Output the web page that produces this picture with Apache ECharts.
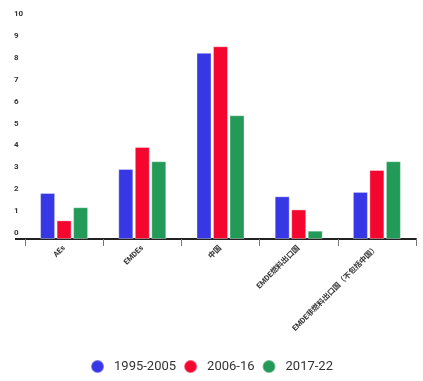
<!DOCTYPE html>
<html><head><meta charset="utf-8">
<script src="https://cdn.jsdelivr.net/npm/echarts@6/dist/echarts.min.js"></script>
<style>html,body{margin:0;padding:0;background:#fff}#c{width:423px;height:381px}</style>
</head><body><div id="c"></div>
<script>
const categories = ['AEs', 'EMDEs', '中国', 'EMDE燃料出口国', 'EMDE非燃料出口国（不包括中国）'];
const seriesNames = ['1995-2005', '2006-16', '2017-22'];
const s1995 = [2.1, 3.2, 8.5, 1.95, 2.15];
const s2006 = [0.85, 4.2, 8.8, 1.35, 3.15];
const s2017 = [1.45, 3.55, 5.65, 0.38, 3.55];
const yTicks = [0, 1, 2, 3, 4, 5, 6, 7, 8, 9, 10];
const colors = ['#3737e6', '#f5062f', '#239a58'];

const chart = echarts.init(document.getElementById('c'), null, {renderer: 'canvas'});
const data = [s1995, s2006, s2017];
chart.setOption({
  animation: false,
  textStyle: {fontFamily: 'Roboto, "Noto Sans CJK SC", sans-serif'},
  grid: {left: 25, right: 7, top: 20, bottom: 142, containLabel: false},
  legend: {
    bottom: 2, left: 'center', icon: 'circle', itemWidth: 13, itemHeight: 13, itemGap: 7,
    textStyle: {fontSize: 13, color: '#333', padding: [0, 0, 0, 5], fontFamily: 'Roboto, sans-serif'},
    data: seriesNames
  },
  xAxis: {
    type: 'category', data: categories,
    axisLine: {show: true, lineStyle: {color: '#222', width: 2}},
    axisTick: {show: true, length: 7, lineStyle: {color: '#777', width: 1}},
    axisLabel: {rotate: 45, fontSize: 7.5, color: '#333', fontWeight: 'bold', margin: 8, interval: 0,
      fontFamily: 'Roboto, "Noto Sans CJK SC", sans-serif'}
  },
  yAxis: {
    type: 'value', min: yTicks[0], max: yTicks[yTicks.length - 1], interval: 1,
    axisLine: {show: false}, axisTick: {show: false},
    splitLine: {show: false},
    axisLabel: {fontSize: 8, color: '#333', fontWeight: 'bold', align: 'left', margin: 11,
      verticalAlign: 'bottom', padding: [0, 0, 2, 0]}
  },
  series: seriesNames.map((n, i) => ({
    name: n, type: 'bar', data: data[i], barWidth: 15, barGap: '10%',
    itemStyle: {color: colors[i], borderColor: 'rgba(255,255,255,0.35)', borderWidth: 1}
  }))
});
const p0 = chart.convertToPixel({gridIndex: 0}, [0, 0]);
chart.setOption({graphic: [{type: 'line', shape: {x1: 15, y1: p0[1], x2: 26, y2: p0[1]}, style: {stroke: '#222', lineWidth: 2}}]});
</script></body></html>
